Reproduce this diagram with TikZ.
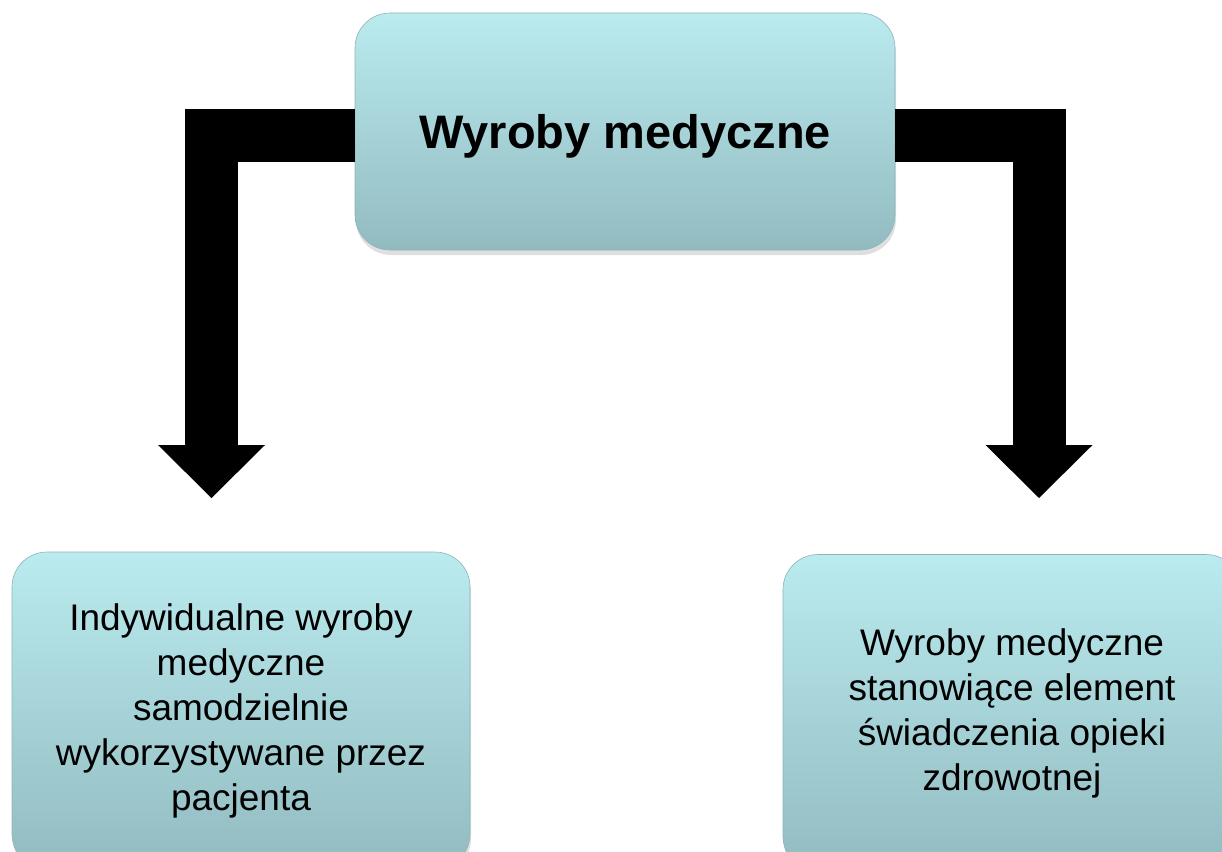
\documentclass[tikz,border=0pt]{standalone}
\usepackage{fontspec}
\setmainfont{Liberation Sans}
\usetikzlibrary{positioning, arrows.meta, shadows}
\definecolor{boxtop}{RGB}{186,235,239}
\definecolor{boxbot}{RGB}{146,187,192}
\definecolor{boxedge}{RGB}{140,180,186}
\tikzset{
  box/.style={rounded corners=35pt, top color=boxtop, bottom color=boxbot,
    draw=boxedge, line width=0.6pt, align=center, inner sep=0pt,
    drop shadow={opacity=0.25, shadow xshift=1pt, shadow yshift=-5pt}},
  bigarrow/.style={line width=53pt,
    -{Triangle[length=53pt, width=107pt, line width=0pt]}},
}

\begin{document}
\begin{tikzpicture}[x=1pt, y=-1pt]
        \useasboundingbox (0,0) rectangle (1222,851);
        \node[box, minimum width=540pt, minimum height=237pt, text height=34pt, text depth=0pt,
            font=\fontsize{47pt}{56pt}\selectfont\bfseries] (med) at (625,131.5) {Wyroby medyczne};
        \node[box, minimum width=458pt, minimum height=317pt,
            font=\fontsize{37pt}{45pt}\selectfont] (self) at (241,710.5)
            {Indywidualne wyroby\\medyczne\\samodzielnie\\wykorzystywane przez\\pacjenta};
        \node[box, minimum width=458pt, minimum height=317pt,
            font=\fontsize{37pt}{45pt}\selectfont] (care) at (1012,713)
            {Wyroby medyczne\\stanowiące element\\świadczenia opieki\\zdrowotnej};
        \coordinate (tipL) at (211.5,498);
        \coordinate (tipR) at (1039,498);
        \draw[bigarrow] ([yshift=-3.5pt]med.west) -| (tipL);
        \draw[bigarrow] ([yshift=-3.5pt]med.east) -| (tipR);
    \end{tikzpicture}
\end{document}
